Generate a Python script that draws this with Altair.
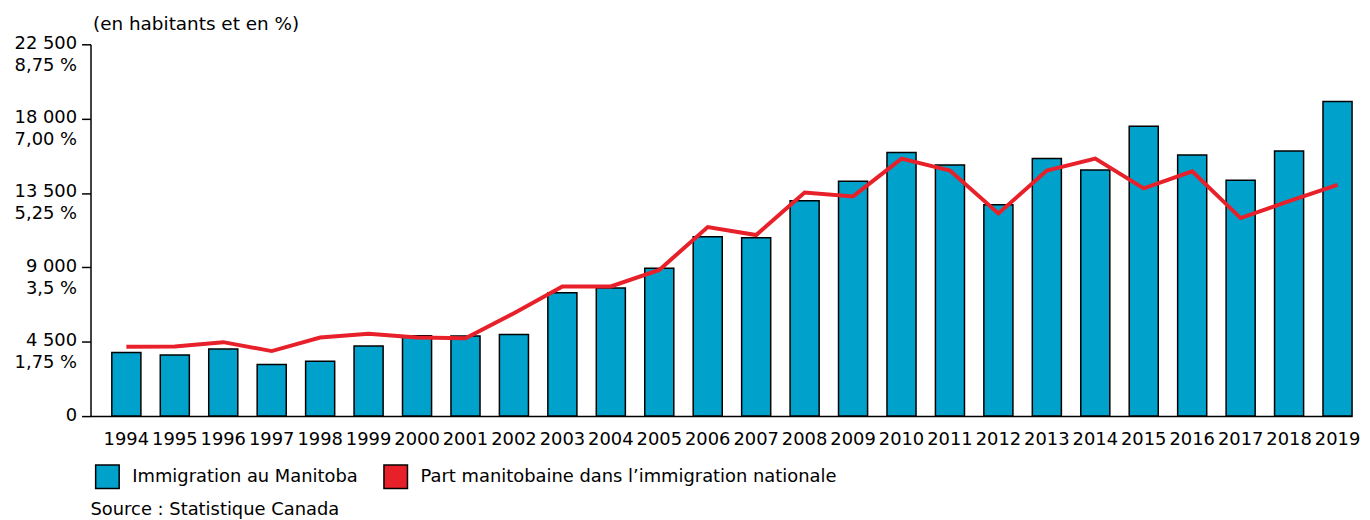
import altair as alt
import pandas as pd

years = [str(y) for y in range(1994, 2020)]
immigration = [3844, 3700, 4060, 3123, 3321, 4240, 4865, 4841, 4943, 7466,
               7748, 8949, 10847, 10787, 13033, 14210, 15952, 15195, 12793, 15592,
               14895, 17537, 15796, 14270, 16036, 19039]
part_pct = [1.63, 1.64, 1.74, 1.53, 1.85, 1.94, 1.85, 1.83, 2.42, 3.05,
            3.05, 3.44, 4.45, 4.26, 5.26, 5.17, 6.06, 5.78, 4.77, 5.78,
            6.06, 5.36, 5.76, 4.66, 5.06, 5.44]

series = ["Immigration au Manitoba", "Part manitobaine dans l\u2019immigration nationale"]
tick_values = [0, 4500, 9000, 13500, 18000, 22500]
count_labels = ["0", "4 500", "9 000", "13 500", "18 000", "22 500"]
pct_labels = ["", "1,75 %", "3,5 %", "5,25 %", "7,00 %", "8,75 %"]

BLUE = "#00A2CB"
RED = "#E8202A"
FONT = "DejaVu Sans"
FS = 18

df = pd.DataFrame({"year": years, "immigration": immigration, "part": part_pct})
df["serie"] = series[0]

expr = "'0'"
for v, c, p in reversed(list(zip(tick_values, count_labels, pct_labels))):
    if p:
        expr = f"datum.value == {v} ? ['{c}', '{p}'] : " + expr

x = alt.X("year:N", title=None,
          scale=alt.Scale(paddingInner=0.4, paddingOuter=0.22, align=1),
          axis=alt.Axis(labelAngle=0, ticks=False, domainColor="black", domainWidth=1.5,
                        labelFont=FONT, labelFontSize=FS, labelColor="black", labelPadding=15))

bars = alt.Chart(df).mark_bar(stroke="black", strokeWidth=1.5).encode(
    x=x,
    y=alt.Y("immigration:Q", title="(en habitants et en %)",
            scale=alt.Scale(domain=[0, 22500], nice=False),
            axis=alt.Axis(values=tick_values, labelExpr=expr, grid=False,
                          domainColor="black", domainWidth=1.5, tickColor="black",
                          tickSize=9, tickWidth=1.5, labelPadding=5,
                          labelFont=FONT, labelFontSize=FS, labelColor="black",
                          labelBaseline="top", labelOffset=-10, labelLineHeight=22,
                          labelBound=False, labelOverlap=False,
                          titleAngle=0, titleAlign="left", titleBaseline="middle",
                          titleX=2, titleY=-21, titleFont=FONT, titleFontSize=18.5,
                          titleFontWeight="normal", titleColor="black")),
    color=alt.Color("serie:N", title=None,
                    scale=alt.Scale(domain=series, range=[BLUE, RED]),
                    legend=alt.Legend(orient="none", legendX=4, legendY=422,
                                      direction="horizontal", symbolType="square",
                                      symbolSize=560, symbolStrokeColor="black",
                                      symbolStrokeWidth=1.5, symbolOpacity=1,
                                      labelFont=FONT, labelFontSize=FS, labelColor="black",
                                      labelOffset=12, columnPadding=22, padding=0,
                                      labelLimit=600)),
)

line = alt.Chart(df).mark_line(color=RED, strokeWidth=4).encode(
    x=alt.X("year:N"),
    y=alt.Y("part:Q", scale=alt.Scale(domain=[0, 8.75], nice=False), axis=None),
)

chart = alt.layer(bars, line).resolve_scale(y="independent").properties(
    width=1269, height=374,
    autosize=alt.AutoSizeParams(type="none"),
    padding={"left": 83, "top": 35, "right": 10, "bottom": 102},
    title=alt.TitleParams(text="Source : Statistique Canada", orient="bottom", anchor="start",
                          font=FONT, fontSize=FS, fontWeight="normal", color="black",
                          offset=9, frame="group"),
).configure_view(stroke=None)

chart.save("out.html", embed_options={"renderer": "svg", "actions": False})
